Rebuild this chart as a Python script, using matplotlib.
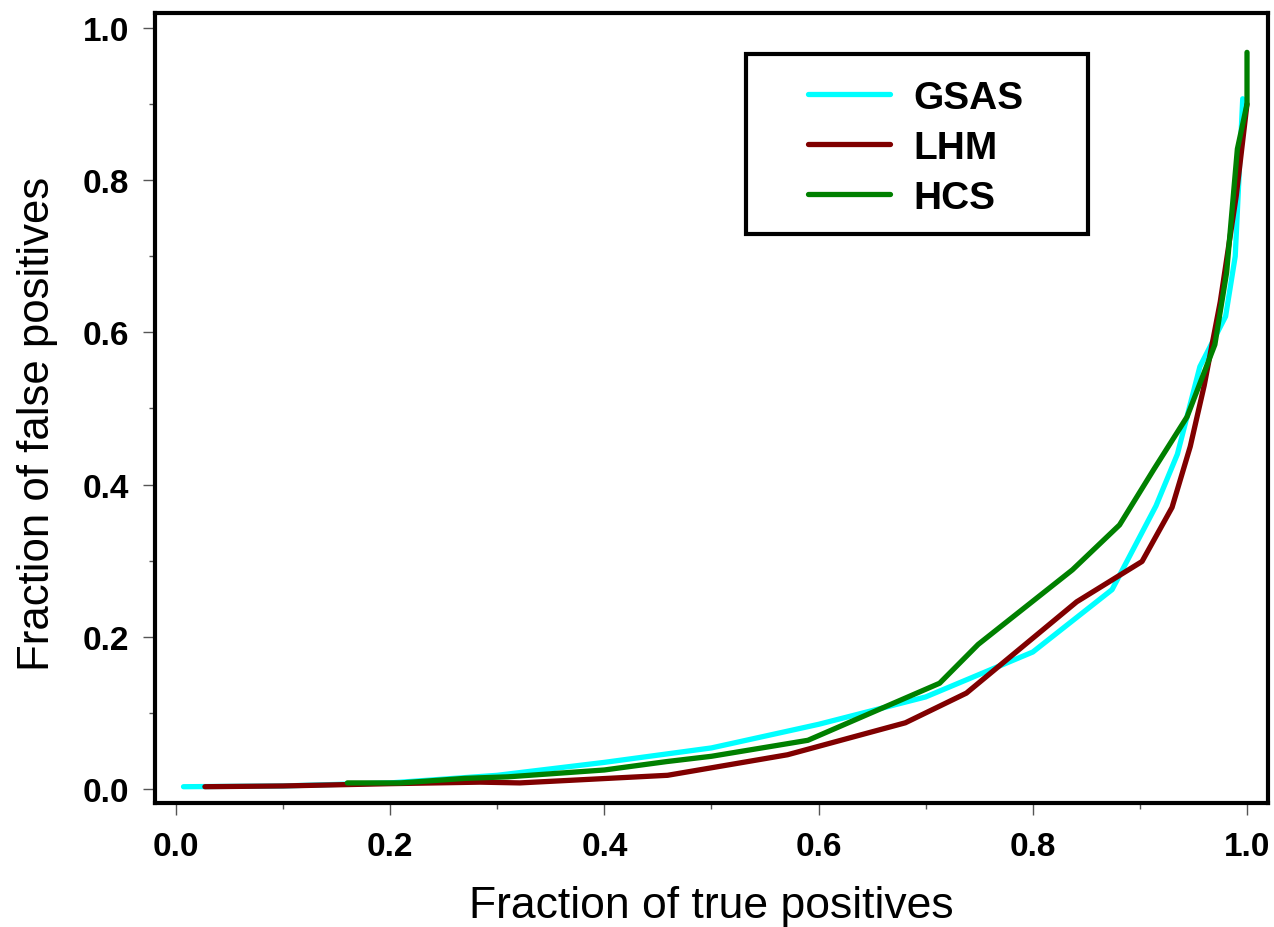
import matplotlib
matplotlib.use("Agg")
from matplotlib import pyplot as plt
from matplotlib.patches import Rectangle

plt.rcParams["font.family"] = ["Liberation Sans", "DejaVu Sans"]

# ROC-like curves
gsas_x = [0.007, 0.10, 0.20, 0.30, 0.40, 0.50, 0.60, 0.70, 0.80, 0.874, 0.915, 0.935, 0.956, 0.98, 0.989, 0.996]
gsas_y = [0.003, 0.004, 0.008, 0.018, 0.035, 0.054, 0.085, 0.121, 0.180, 0.262, 0.372, 0.44, 0.555, 0.621, 0.70, 0.907]

lhm_x = [0.027, 0.10, 0.20, 0.284, 0.321, 0.459, 0.571, 0.681, 0.738, 0.841, 0.902, 0.93, 0.947, 0.96, 0.975, 0.99, 1.0]
lhm_y = [0.003, 0.004, 0.007, 0.009, 0.008, 0.018, 0.045, 0.087, 0.126, 0.246, 0.299, 0.37, 0.45, 0.53, 0.64, 0.78, 0.90]

hcs_x = [0.160, 0.21, 0.27, 0.31, 0.40, 0.458, 0.50, 0.590, 0.713, 0.749, 0.837, 0.881, 0.913, 0.944, 0.970, 0.981, 0.991, 1.0, 1.0]
hcs_y = [0.008, 0.008, 0.014, 0.016, 0.025, 0.036, 0.043, 0.064, 0.139, 0.190, 0.288, 0.347, 0.42, 0.489, 0.584, 0.679, 0.841, 0.900, 0.968]

series = [("GSAS", gsas_x, gsas_y, "#00ffff"),
          ("LHM", lhm_x, lhm_y, "#800000"),
          ("HCS", hcs_x, hcs_y, "#008000")]

fig = plt.figure(figsize=(12.74, 9.28), dpi=100)
ax = fig.add_axes([155 / 1274, 1 - 804 / 928, 1113 / 1274, 790 / 928])

for name, xs, ys, color in series:
    ax.plot(xs, ys, color=color, lw=3.8, label=name, solid_capstyle="round")

ax.set_xlim(-0.0196, 1.0196)
ax.set_ylim(-0.0184, 1.0197)
ax.set_xticks([0.0, 0.2, 0.4, 0.6, 0.8, 1.0])
ax.set_yticks([0.0, 0.2, 0.4, 0.6, 0.8, 1.0])
ax.set_xticks([0.1, 0.3, 0.5, 0.7, 0.9], minor=True)
ax.set_yticks([0.1, 0.3, 0.5, 0.7, 0.9], minor=True)
ax.set_xticklabels(["0.0", "0.2", "0.4", "0.6", "0.8", "1.0"])
ax.set_yticklabels(["0.0", "0.2", "0.4", "0.6", "0.8", "1.0"])

for sp in ax.spines.values():
    sp.set_linewidth(3)
ax.tick_params(which="major", length=8.5, width=1, color="#555555", labelsize=24, pad=10)
ax.tick_params(axis="x", which="major", pad=12)
ax.tick_params(which="minor", length=4.3, width=1, color="#555555")
for lab in ax.get_xticklabels() + ax.get_yticklabels():
    lab.set_fontweight("bold")

ax.set_xlabel("Fraction of true positives", fontsize=32, labelpad=16)
ax.set_ylabel("Fraction of false positives", fontsize=31.5, labelpad=18)
ax.yaxis.label.set_y(0.481)

# legend box drawn separately so its padding can match the picture
box = Rectangle(((746 - 155) / 1113, (804 - 235) / 790), (1088 - 746) / 1113, (235 - 55) / 790,
                transform=ax.transAxes, fill=False, lw=3, ec="black", zorder=5)
ax.add_patch(box)
leg = ax.legend(loc="upper left", bbox_to_anchor=((808 - 155) / 1113, (804 - 81) / 790),
                frameon=False, borderpad=0, borderaxespad=0, handlelength=2.1, handletextpad=0.6,
                labelspacing=0.36, prop={"weight": "bold", "size": 28})
for line in leg.get_lines():
    line.set_linewidth(3.8)

fig.savefig("out.png", dpi=100)
